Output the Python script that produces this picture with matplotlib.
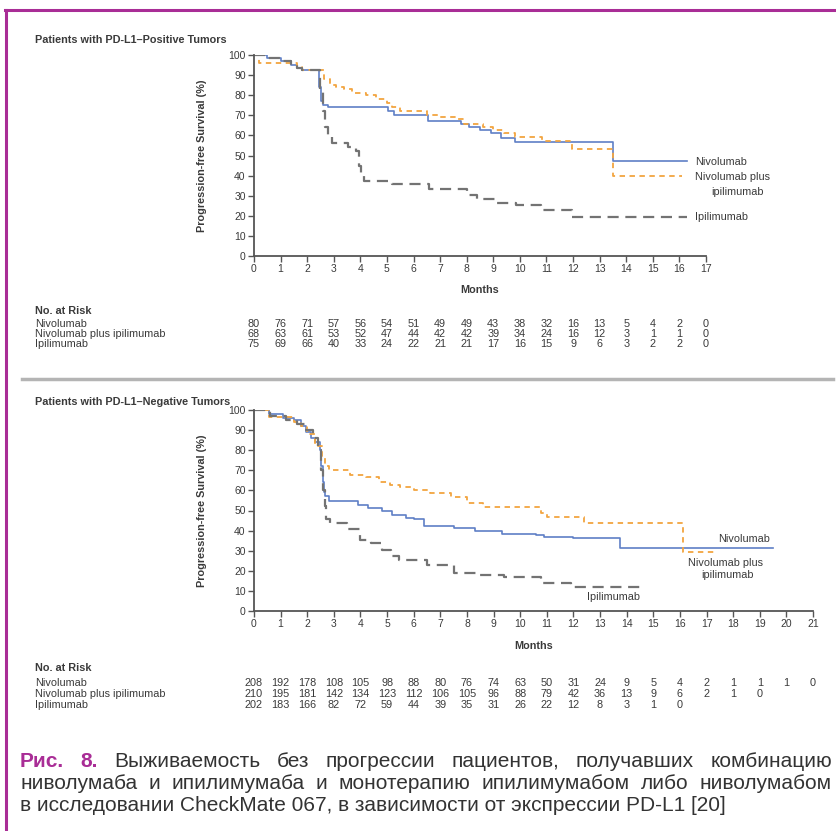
import matplotlib.pyplot as plt
import matplotlib.transforms as mtransforms
from matplotlib.lines import Line2D

W, H = 837, 831

# --- PD-L1 positive panel (steps) ---
top_nivo_t = [0, 0.5, 1.0, 1.4, 1.6, 1.8, 2.45, 2.52, 2.6, 2.8, 5.05, 5.25, 6.55, 7.8, 8.1, 8.5, 8.9, 9.3, 9.8, 13.5, 16.3]
top_nivo_s = [100, 98.5, 97, 95, 93.5, 92.5, 84, 77, 75, 74, 72, 70, 67.3, 65.7, 64.3, 62.7, 61, 58.8, 56.5, 47.3, 47.3]
top_combo_t = [0, 0.2, 1.6, 1.8, 2.65, 2.85, 3.1, 3.4, 3.7, 4.2, 4.6, 5.0, 5.2, 5.5, 6.5, 7.0, 7.6, 7.9, 8.6, 9.0, 9.4, 9.8, 10.85, 11.95, 13.5, 16.1]
top_combo_s = [100, 96, 94, 92.5, 88, 85, 84, 83, 81, 80, 78, 76, 74, 72.2, 70, 69, 68, 65.5, 64, 62.7, 61, 59, 57, 53.2, 39.8, 39.8]
top_ipi_t = [0, 0.5, 1.0, 1.4, 1.6, 1.8, 2.5, 2.58, 2.68, 2.8, 2.95, 3.55, 3.85, 3.95, 4.02, 4.15, 5.2, 6.6, 8.0, 8.4, 9.15, 9.85, 10.8, 11.95, 16.3]
top_ipi_s = [100, 98.5, 97, 95, 93.5, 92.5, 82, 72, 64, 59, 56, 54, 52, 45, 40, 37.5, 36, 33.3, 30.3, 28.3, 26.6, 25.3, 23, 19.6, 19.6]

top_risk_nivo = [80, 76, 71, 57, 56, 54, 51, 49, 49, 43, 38, 32, 16, 13, 5, 4, 2, 0]
top_risk_combo = [68, 63, 61, 53, 52, 47, 44, 42, 42, 39, 34, 24, 16, 12, 3, 1, 1, 0]
top_risk_ipi = [75, 69, 66, 40, 33, 24, 22, 21, 21, 17, 16, 15, 9, 6, 3, 2, 2, 0]

# --- PD-L1 negative panel ---
bot_nivo_t = [0, 0.55, 1.1, 1.5, 1.75, 1.95, 2.15, 2.3, 2.48, 2.53, 2.58, 2.63, 2.67, 2.8, 3.9, 4.3, 4.8, 5.2, 5.7, 6.0, 6.4, 7.5, 8.3, 9.3, 10.6, 10.9, 12.0, 13.75, 19.5]
bot_nivo_s = [100, 98, 96, 95, 92, 89, 86, 84, 80, 72, 64, 59, 57, 54.5, 52.7, 51, 50, 47.8, 46.5, 45.9, 42.5, 41.3, 39.6, 38.5, 37.8, 37, 36.3, 31.3, 31.3]
bot_combo_t = [0, 0.55, 1.5, 1.75, 2.0, 2.3, 2.55, 2.65, 2.8, 3.6, 4.2, 4.7, 5.1, 5.5, 6.0, 6.6, 7.4, 8.0, 8.6, 10.8, 11.0, 12.4, 16.1, 17.35]
bot_combo_s = [100, 96.7, 94, 92, 88, 82, 76, 72, 70, 67.7, 66.5, 64.3, 62.7, 61.9, 60.2, 58.5, 56.9, 53.7, 51.9, 49, 46.8, 43.9, 29.5, 29.5]
bot_ipi_t = [0, 0.6, 1.2, 1.6, 1.9, 2.2, 2.4, 2.5, 2.58, 2.65, 2.72, 2.85, 3.5, 4.0, 4.4, 4.8, 5.15, 5.45, 6.5, 7.5, 8.4, 9.4, 10.8, 11.9, 14.7]
bot_ipi_s = [100, 97, 95, 93, 90, 86, 80, 70, 60, 52, 46, 44, 41, 35.5, 33.7, 30.5, 27.5, 25.4, 22.9, 19.1, 17.9, 16.7, 14.1, 12.1, 12.1]

bot_risk_nivo = [208, 192, 178, 108, 105, 98, 88, 80, 76, 74, 63, 50, 31, 24, 9, 5, 4, 2, 1, 1, 1, 0]
bot_risk_combo = [210, 195, 181, 142, 134, 123, 112, 106, 105, 96, 88, 79, 42, 36, 13, 9, 6, 2, 1, 0]
bot_risk_ipi = [202, 183, 166, 82, 72, 59, 44, 39, 35, 31, 26, 22, 12, 8, 3, 1, 0]

risk_names = ['Nivolumab', 'Nivolumab plus ipilimumab', 'Ipilimumab']

caption_1 = 'Выживаемость без прогрессии пациентов, получавших комбинацию'
caption_2 = 'ниволумаба и ипилимумаба и монотерапию ипилимумабом либо ниволумабом'
caption_3 = 'в исследовании CheckMate 067, в зависимости от экспрессии PD-L1 [20]'

BLUE = '#5f7fc6'
ORANGE = '#f2a540'
GRAY = '#737373'
TXT = '#3a3a3a'
MAGENTA = '#a92d96'
FS = 7.8

plt.rcParams['font.family'] = ['Liberation Sans', 'DejaVu Sans']

fig = plt.figure(figsize=(W / 100, H / 100), dpi=100)


def fy(y):
    return 1 - y / H


def style_axes(ax, xmax):
    ax.set_xlim(0, xmax)
    ax.set_ylim(0, 100)
    ax.set_xticks(range(xmax + 1))
    ax.set_yticks(range(0, 101, 10))
    for s in ['top', 'right']:
        ax.spines[s].set_visible(False)
    for s in ['left', 'bottom']:
        ax.spines[s].set_color('#555555')
        ax.spines[s].set_linewidth(1.3)
    ax.tick_params(direction='out', length=4, width=1, color='#555555',
                   labelsize=7.5, labelcolor=TXT, pad=2)
    ax.set_xlabel('Months', fontweight='bold', fontsize=FS, color=TXT)
    ax.set_ylabel('Progression-free Survival (%)', fontweight='bold', fontsize=FS, color=TXT)
    ax.xaxis.label.set_va('center')
    ax.yaxis.label.set_va('center')


def draw_curves(ax, nivo, combo, ipi):
    ax.step(nivo[0], nivo[1], where='post', color=BLUE, lw=1.2)
    ax.step(combo[0], combo[1], where='post', color=ORANGE, lw=1.3, linestyle=(0, (3, 2.5)))
    ax.step(ipi[0], ipi[1], where='post', color=GRAY, lw=1.6, linestyle=(0, (5, 3)))


def risk_table(ax, y_head, ys, rows):
    tr = mtransforms.blended_transform_factory(ax.transData, fig.transFigure)
    fig.text(35 / W, fy(y_head), 'No. at Risk', fontsize=FS, fontweight='bold', color=TXT, va='center')
    for name, y, vals in zip(risk_names, ys, rows):
        fig.text(35 / W, fy(y), name, fontsize=FS, color=TXT, va='center')
        for m, v in enumerate(vals):
            ax.text(m, fy(y), str(v), transform=tr, fontsize=FS, color=TXT,
                    ha='center', va='center', clip_on=False)


# top panel
ax1 = fig.add_axes([254 / W, fy(256), 452 / W, 201 / H])
style_axes(ax1, 17)
ax1.xaxis.set_label_coords(0.5, (256 - 290) / 201)
ax1.yaxis.set_label_coords((202 - 254) / 452, 0.5)
draw_curves(ax1, (top_nivo_t, top_nivo_s), (top_combo_t, top_combo_s), (top_ipi_t, top_ipi_s))
ax1.text(16.6, 46.8, 'Nivolumab', fontsize=FS, color=TXT, va='center')
ax1.text(16.6, 39.3, 'Nivolumab plus', fontsize=FS, color=TXT, va='center')
ax1.text(18.2, 31.8, 'ipilimumab', fontsize=FS, color=TXT, va='center', ha='center', clip_on=False)
ax1.text(16.6, 19.4, 'Ipilimumab', fontsize=FS, color=TXT, va='center')
fig.text(35 / W, fy(40), 'Patients with PD-L1\u2013Positive Tumors', fontsize=FS,
         fontweight='bold', color=TXT, va='center')
risk_table(ax1, 311, [324, 334, 344], [top_risk_nivo, top_risk_combo, top_risk_ipi])

# separator
fig.add_artist(Line2D([22 / W, 833 / W], [fy(379), fy(379)], lw=2.5, color='#b4b4b4'))

# bottom panel
ax2 = fig.add_axes([254 / W, fy(611), 559 / W, 201 / H])
style_axes(ax2, 21)
ax2.xaxis.set_label_coords(0.5, (611 - 646) / 201)
ax2.yaxis.set_label_coords((202 - 254) / 559, 0.5)
draw_curves(ax2, (bot_nivo_t, bot_nivo_s), (bot_combo_t, bot_combo_s), (bot_ipi_t, bot_ipi_s))
ax2.text(19.4, 35.8, 'Nivolumab', fontsize=FS, color=TXT, va='center', ha='right')
ax2.text(17.7, 23.9, 'Nivolumab plus', fontsize=FS, color=TXT, va='center', ha='center')
ax2.text(17.8, 17.9, 'ipilimumab', fontsize=FS, color=TXT, va='center', ha='center')
ax2.text(13.5, 7.0, 'Ipilimumab', fontsize=FS, color=TXT, va='center', ha='center')
fig.text(35 / W, fy(402), 'Patients with PD-L1\u2013Negative Tumors', fontsize=FS,
         fontweight='bold', color=TXT, va='center')
risk_table(ax2, 668, [683, 694, 705], [bot_risk_nivo, bot_risk_combo, bot_risk_ipi])

# frame
fig.add_artist(Line2D([5 / W, 1], [fy(10), fy(10)], lw=2.2, color=MAGENTA))
fig.add_artist(Line2D([6 / W, 6 / W], [fy(10), 0], lw=2.2, color=MAGENTA))

# caption, first two lines justified
renderer = fig.canvas.get_renderer()
cap = dict(fontsize=15, color='#333333', va='baseline')
head = dict(fontsize=15, color=MAGENTA, fontweight='bold', va='baseline')


def justify(parts, y, x0=20, x1=832):
    texts = [fig.text(0, fy(y), w, **st) for w, st in parts]
    widths = [t.get_window_extent(renderer).width for t in texts]
    gap = (x1 - x0 - sum(widths)) / (len(texts) - 1)
    x = x0
    for t, w in zip(texts, widths):
        t.set_x(x / W)
        x += w + gap


justify([('Рис.', head), ('8.', head)] + [(w, cap) for w in caption_1.split()], 767)
justify([(w, cap) for w in caption_2.split()], 789)
fig.text(20 / W, fy(811), caption_3, **cap)

fig.savefig('out.png', dpi=100)
